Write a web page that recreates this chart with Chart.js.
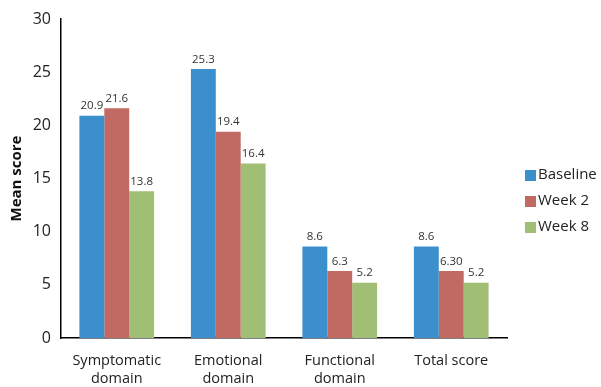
<!DOCTYPE html>
<html>
<head>
<meta charset="utf-8">
<script src="https://cdn.jsdelivr.net/npm/chart.js@4"></script>
<style>
  html, body { margin: 0; padding: 0; background: #fff; }
  #wrap { width: 601px; height: 387px; }
</style>
</head>
<body>
<div id="wrap"><canvas id="scoreChart" width="601" height="387"></canvas></div>
<script>
// data
const categories = [['Symptomatic', 'domain'], ['Emotional', 'domain'], ['Functional', 'domain'], 'Total score']
const baselineText = ['20.9', '25.3', '8.6', '8.6']
const week2Text = ['21.6', '19.4', '6.3', '6.30']
const week8Text = ['13.8', '16.4', '5.2', '5.2']
const yTicks = [0, 5, 10, 15, 20, 25, 30]

const fontName = "'Open Sans', 'DejaVu Sans', sans-serif"

// value labels above each bar
const barLabels = {
  id: 'barLabels',
  afterDatasetsDraw(chart) {
    const ctx = chart.ctx
    ctx.save()
    ctx.font = '11.5px ' + fontName
    ctx.fillStyle = '#333'
    ctx.textAlign = 'center'
    ctx.textBaseline = 'bottom'
    chart.data.datasets.forEach(function (ds, i) {
      chart.getDatasetMeta(i).data.forEach(function (bar, j) {
        ctx.fillText(ds.labelText[j], bar.x, bar.y - 4)
      })
    })
    ctx.restore()
  }
}

// legend on the right
const sideLegend = {
  id: 'sideLegend',
  afterDraw(chart) {
    const ctx = chart.ctx
    ctx.save()
    ctx.font = '15px ' + fontName
    ctx.textBaseline = 'middle'
    chart.data.datasets.forEach(function (ds, i) {
      const y = 175 + i * 26
      ctx.fillStyle = ds.backgroundColor
      ctx.fillRect(525, y - 5, 11, 11)
      ctx.fillStyle = '#222'
      ctx.fillText(ds.label, 538, y)
    })
    ctx.restore()
  }
}

new Chart(document.getElementById('scoreChart'), {
  type: 'bar',
  data: {
    labels: categories,
    datasets: [
      { label: 'Baseline', data: baselineText.map(Number), labelText: baselineText, backgroundColor: '#3b8fcd' },
      { label: 'Week 2', data: week2Text.map(Number), labelText: week2Text, backgroundColor: '#c06a63' },
      { label: 'Week 8', data: week8Text.map(Number), labelText: week8Text, backgroundColor: '#a1bf74' }
    ]
  },
  options: {
    responsive: false,
    animation: false,
    datasets: {
      bar: { categoryPercentage: 0.67, barPercentage: 1.0, borderWidth: 0 }
    },
    layout: { padding: { top: 19, right: 94, left: 0, bottom: 0 } },
    plugins: {
      legend: { display: false },
      tooltip: { enabled: false }
    },
    scales: {
      x: {
        grid: { display: false, drawTicks: false },
        border: { color: '#000', width: 1.5 },
        ticks: {
          color: '#222',
          font: { family: fontName, size: 14.5, lineHeight: 1.3 },
          padding: 13,
          maxRotation: 0
        },
        afterFit: function (scale) { scale.height = 49 }
      },
      y: {
        min: 0,
        max: 30,
        afterBuildTicks: function (scale) {
          scale.ticks = yTicks.map(function (v) { return { value: v } })
        },
        grid: { display: false, drawTicks: true, tickLength: 6, tickColor: '#000' },
        border: { color: '#000', width: 1.5 },
        ticks: {
          color: '#222',
          font: { family: fontName, size: 16 },
          padding: 4
        },
        title: {
          display: true,
          text: 'Mean score',
          color: '#111',
          font: { family: fontName, size: 15, weight: 'bold' },
          padding: { top: 8, bottom: 0 }
        },
        afterFit: function (scale) { scale.width = 61 }
      }
    }
  },
  plugins: [barLabels, sideLegend]
})
</script>
</body>
</html>
